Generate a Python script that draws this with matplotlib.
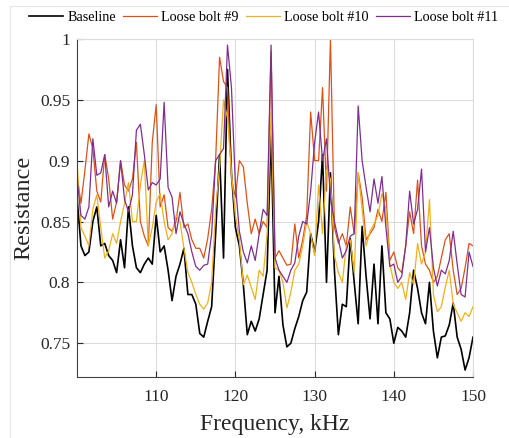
#!/usr/bin/env python3
import numpy as np
import matplotlib

matplotlib.use("Agg")
import matplotlib.pyplot as plt
from matplotlib.lines import Line2D

# frequency axis, kHz (0.5 kHz steps)
freq = np.arange(100.0, 150.01, 0.5)

baseline = [
    0.870, 0.830, 0.822, 0.825, 0.850, 0.862, 0.830, 0.832, 0.822, 0.818,
    0.808, 0.835, 0.812, 0.862, 0.830, 0.812, 0.808, 0.815, 0.820, 0.815,
    0.855, 0.825, 0.830, 0.810, 0.785, 0.805, 0.815, 0.828, 0.790, 0.790,
    0.782, 0.758, 0.755, 0.768, 0.780, 0.840, 0.905, 0.820, 0.975, 0.890,
    0.845, 0.830, 0.798, 0.757, 0.768, 0.760, 0.770, 0.790, 0.810, 0.925,
    0.775, 0.805, 0.765, 0.747, 0.750, 0.762, 0.772, 0.785, 0.792, 0.840,
    0.825, 0.850, 0.905, 0.800, 0.890, 0.810, 0.757, 0.782, 0.780, 0.836,
    0.800, 0.766, 0.846, 0.805, 0.770, 0.815, 0.766, 0.830, 0.775, 0.770,
    0.750, 0.763, 0.760, 0.755, 0.775, 0.810, 0.795, 0.775, 0.766, 0.800,
    0.760, 0.738, 0.755, 0.756, 0.765, 0.783, 0.755, 0.745, 0.728, 0.738,
    0.755,
]

bolt9 = [
    0.888, 0.865, 0.892, 0.922, 0.910, 0.875, 0.866, 0.905, 0.885, 0.852,
    0.866, 0.900, 0.880, 0.875, 0.885, 0.915, 0.850, 0.838, 0.830, 0.915,
    0.946, 0.862, 0.872, 0.845, 0.842, 0.850, 0.874, 0.845, 0.848, 0.835,
    0.828, 0.828, 0.820, 0.836, 0.860, 0.900, 0.985, 0.965, 0.960, 0.885,
    0.870, 0.900, 0.895, 0.865, 0.840, 0.852, 0.840, 0.850, 0.845, 0.990,
    0.820, 0.826, 0.820, 0.814, 0.815, 0.848, 0.820, 0.835, 0.855, 0.940,
    0.900, 0.900, 0.960, 0.875, 1.000, 0.845, 0.832, 0.840, 0.830, 0.862,
    0.840, 0.890, 0.870, 0.835, 0.840, 0.845, 0.860, 0.850, 0.874, 0.818,
    0.825, 0.812, 0.808, 0.830, 0.858, 0.840, 0.884, 0.830, 0.815, 0.810,
    0.800, 0.805, 0.820, 0.835, 0.840, 0.810, 0.790, 0.795, 0.812, 0.832,
    0.830,
]

bolt10 = [
    0.900, 0.845, 0.838, 0.830, 0.860, 0.872, 0.845, 0.820, 0.826, 0.840,
    0.832, 0.850, 0.865, 0.882, 0.850, 0.850, 0.880, 0.900, 0.830, 0.845,
    0.866, 0.873, 0.850, 0.835, 0.840, 0.855, 0.850, 0.828, 0.808, 0.800,
    0.790, 0.782, 0.778, 0.783, 0.800, 0.860, 0.895, 0.950, 0.935, 0.890,
    0.855, 0.835, 0.798, 0.806, 0.796, 0.786, 0.810, 0.805, 0.840, 0.940,
    0.812, 0.810, 0.800, 0.779, 0.792, 0.810, 0.815, 0.830, 0.850, 0.840,
    0.822, 0.880, 0.840, 0.893, 0.885, 0.822, 0.808, 0.800, 0.830, 0.835,
    0.808, 0.890, 0.860, 0.830, 0.842, 0.848, 0.855, 0.873, 0.860, 0.815,
    0.800, 0.795, 0.800, 0.786, 0.808, 0.798, 0.832, 0.815, 0.825, 0.868,
    0.790, 0.776, 0.780, 0.796, 0.810, 0.782, 0.775, 0.768, 0.775, 0.772,
    0.780,
]

bolt11 = [
    0.886, 0.855, 0.852, 0.862, 0.918, 0.888, 0.890, 0.905, 0.862, 0.875,
    0.865, 0.900, 0.868, 0.858, 0.872, 0.925, 0.930, 0.905, 0.876, 0.882,
    0.880, 0.885, 0.948, 0.878, 0.870, 0.840, 0.858, 0.848, 0.840, 0.825,
    0.813, 0.810, 0.814, 0.815, 0.840, 0.900, 0.905, 0.910, 0.995, 0.960,
    0.880, 0.842, 0.825, 0.816, 0.830, 0.818, 0.840, 0.860, 0.855, 0.995,
    0.820, 0.810, 0.805, 0.800, 0.810, 0.816, 0.838, 0.850, 0.848, 0.875,
    0.915, 0.940, 0.900, 0.918, 0.870, 0.850, 0.835, 0.820, 0.826, 0.838,
    0.840, 0.945, 0.900, 0.878, 0.858, 0.885, 0.865, 0.887, 0.845, 0.813,
    0.815, 0.800, 0.805, 0.830, 0.875, 0.848, 0.860, 0.893, 0.825, 0.845,
    0.812, 0.797, 0.810, 0.807, 0.818, 0.842, 0.815, 0.790, 0.788, 0.825,
    0.813,
]

labels = ["Baseline", "Loose bolt #9", "Loose bolt #10", "Loose bolt #11"]
colors = ["#000000", "#D95319", "#EDB120", "#7E2F8E"]
widths = [1.2, 0.9, 0.9, 0.9]
xticks = [110, 120, 130, 140, 150]
yticks = [0.75, 0.8, 0.85, 0.9, 0.95, 1.0]
ytick_labels = ["0.75", "0.8", "0.85", "0.9", "0.95", "1"]

plt.rcParams["font.family"] = ["Liberation Serif", "DejaVu Serif"]

fig = plt.figure(figsize=(5.09, 4.38), dpi=100)
ax = fig.add_axes([0.1513, 0.140, 0.778, 0.771])

for series, lab, col, lw in zip([baseline, bolt9, bolt10, bolt11], labels, colors, widths):
    ax.plot(freq, series, color=col, linewidth=lw, label=lab)

ax.set_xlim(100, 150)
ax.set_ylim(0.7225, 1.0)
ax.set_xticks(xticks)
ax.set_yticks(yticks)
ax.set_yticklabels(ytick_labels)
ax.tick_params(direction="in", length=4, width=0.8, colors="#262626", labelsize=12.5)
ax.tick_params(axis="x", pad=9)
ax.tick_params(axis="y", pad=5)
ax.grid(True, color="#dcdcdc", linewidth=0.8)
ax.set_axisbelow(True)
for side in ["left", "bottom"]:
    ax.spines[side].set_color("#404040")
    ax.spines[side].set_linewidth(0.8)
for side in ["top", "right"]:
    ax.spines[side].set_color("#dcdcdc")
    ax.spines[side].set_linewidth(0.8)

ax.set_xlabel("Frequency, kHz", fontsize=17, color="#262626", labelpad=6)
ax.set_ylabel("Resistance", fontsize=17.5, color="#262626")

fig.legend(
    loc="center", bbox_to_anchor=(0.518, 0.961), ncol=4, frameon=False,
    fontsize=10.2, handlelength=2.4, handletextpad=0.3, columnspacing=0.5,
    borderaxespad=0.0, borderpad=0.0,
)

# thin light border around the figure area
fig.add_artist(Line2D([10 / 509, 10 / 509], [0, 1 - 6 / 438], color="#e6e6e6", linewidth=0.8))
fig.add_artist(Line2D([10 / 509, 1], [1 - 6 / 438, 1 - 6 / 438], color="#e6e6e6", linewidth=0.8))

fig.savefig("out.png", dpi=100)
